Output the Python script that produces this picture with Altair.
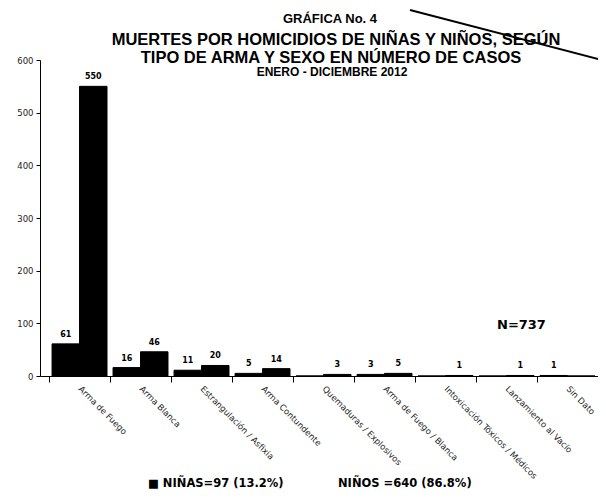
import altair as alt
import pandas as pd

categorias = ["Arma de Fuego", "Arma Blanca", "Estrangulación / Asfixia",
              "Arma Contundente", "Quemaduras / Explosivos", "Arma de Fuego / Blanca",
              "Intoxicación Tóxicos / Médicos", "Lanzamiento al Vacío", "Sin Dato"]
ninas = [61, 16, 11, 5, 0, 3, 0, 0, 1]
ninos = [550, 46, 20, 14, 3, 5, 1, 1, 0]
sexos = ["NIÑAS", "NIÑOS"]
y_ticks = [0, 100, 200, 300, 400, 500, 600]

titulo_1 = "GRÁFICA No. 4"
titulo_2 = "MUERTES POR HOMICIDIOS DE NIÑAS Y NIÑOS, SEGÚN"
titulo_3 = "TIPO DE ARMA Y SEXO EN NÚMERO DE CASOS"
titulo_4 = "ENERO - DICIEMBRE 2012"
total_txt = "N=737"
leyenda_ninas = "■ NIÑAS=97 (13.2%)"
leyenda_ninos = "NIÑOS =640 (86.8%)"

rows = []
for c, a, o in zip(categorias, ninas, ninos):
    rows.append({"cat": c, "sexo": "NIÑAS", "casos": a, "etq": str(a) if a > 0 else ""})
    rows.append({"cat": c, "sexo": "NIÑOS", "casos": o, "etq": str(o) if o > 0 else ""})
df = pd.DataFrame(rows)

x_enc = alt.X("cat:N", sort=categorias,
              scale=alt.Scale(paddingInner=0, paddingOuter=0.074, align=1),
              axis=alt.Axis(title=None, labelAngle=45, labelAlign="left",
                            labelBaseline="middle", labelFont="DejaVu Sans",
                            labelFontSize=8.5, labelColor="#222222", labelPadding=5,
                            tickBand="extent", tickSize=6, tickColor="black",
                            domainColor="black", labelLimit=200))
xoff = alt.XOffset("sexo:N", sort=sexos, scale=alt.Scale(paddingInner=0, paddingOuter=0.11))
y_enc = alt.Y("casos:Q", scale=alt.Scale(domain=[0, 600], nice=False),
              axis=alt.Axis(title=None, values=y_ticks, labelFont="DejaVu Sans",
                            labelFontSize=8.5, labelColor="#222222", tickSize=4,
                            labelPadding=3, tickColor="black", domainColor="black",
                            grid=False))

base = alt.Chart(df)
bars = base.mark_bar(color="black", stroke="black", strokeWidth=1).encode(
    x=x_enc, xOffset=xoff, y=y_enc)
labels = base.mark_text(baseline="bottom", dy=-5, font="DejaVu Sans",
                        fontSize=8, fontWeight="bold", color="black").encode(
    x=x_enc, xOffset=xoff, y=y_enc, text="etq:N")


def txt(t, x, y, size, font="Liberation Sans", align="center"):
    return alt.Chart(pd.DataFrame({"t": [t]})).mark_text(
        font=font, fontSize=size, fontWeight="bold", color="black",
        align=align, baseline="alphabetic").encode(
        text="t:N", x=alt.value(x), y=alt.value(y))


# scanned-page artefact: thin black diagonal stroke across the title
trazo = alt.Chart(pd.DataFrame({"t": [0]})).mark_rule(color="black", strokeWidth=2).encode(
    x=alt.value(370), x2=alt.value(566), y=alt.value(-50), y2=alt.value(1))

annots = [
    txt(titulo_1, 290, 23 - 60, 13),
    txt(titulo_2, 296, 45 - 60, 16.5),
    txt(titulo_3, 291, 62.5 - 60, 16.5),
    txt(titulo_4, 292, 76 - 60, 12),
    txt(total_txt, 457, 329 - 60, 13, font="DejaVu Sans", align="left"),
    txt(leyenda_ninas, 108, 487 - 60, 11.5, font="DejaVu Sans", align="left"),
    txt(leyenda_ninos, 298, 487 - 60, 11.5, font="DejaVu Sans", align="left"),
]

chart = alt.layer(bars, labels, trazo, *annots).properties(
    width=558, height=316,
    autosize=alt.AutoSizeParams(type="none"),
    padding={"left": 32, "top": 52, "right": 0, "bottom": 114},
    background="white",
).configure_view(stroke=None)

chart.save("out.html", embed_options={"renderer": "svg", "actions": False})
